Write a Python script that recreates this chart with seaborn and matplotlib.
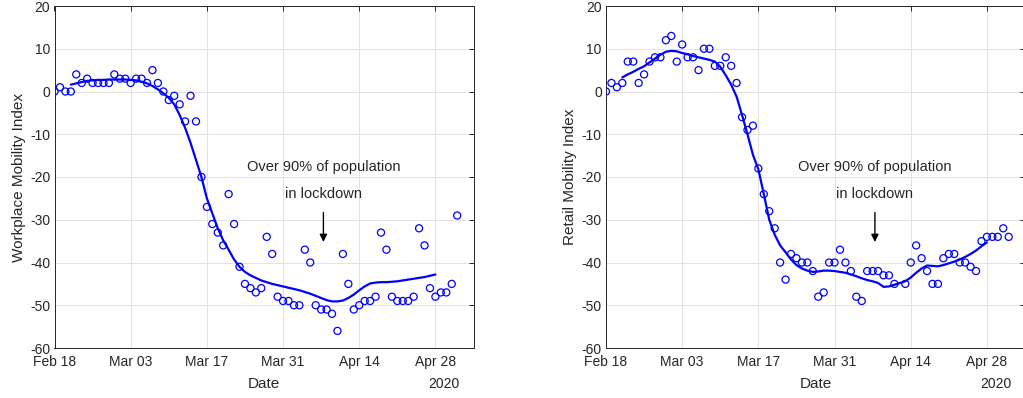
import numpy as np
import pandas as pd
import matplotlib
matplotlib.use("Agg")
import matplotlib.pyplot as plt
import matplotlib.dates as mdates
import seaborn as sns

# ---------------- data ----------------
start_date = "2020-02-18"
n_days = 75
workplace = [0, 1, 0, 0, 4, 2, 3, 2, 2, 2,
             2, 4, 3, 3, 2, 3, 3, 2, 5, 2,
             0, -2, -1, -3, -7, -1, -7, -20, -27, -31,
             -33, -36, -24, -31, -41, -45, -46, -47, -46, -34,
             -38, -48, -49, -49, -50, -50, -37, -40, -50, -51,
             -51, -52, -56, -38, -45, -51, -50, -49, -49, -48,
             -33, -37, -48, -49, -49, -49, -48, -32, -36, -46,
             -48, -47, -47, -45, -29]
retail = [0, 2, 1, 2, 7, 7, 2, 4, 7, 8,
          8, 12, 13, 7, 11, 8, 8, 5, 10, 10,
          6, 6, 8, 6, 2, -6, -9, -8, -18, -24,
          -28, -32, -40, -44, -38, -39, -40, -40, -42, -48,
          -47, -40, -40, -37, -40, -42, -48, -49, -42, -42,
          -42, -43, -43, -45, np.nan, -45, -40, -36, -39, -42,
          -45, -45, -39, -38, -38, -40, -40, -41, -42, -35,
          -34, -34, -34, -32, -34]

# smoothed trend lines (days 3 .. 70 after start)
smooth_first_day = 3
workplace_smooth = [1.6, 1.9, 2.2, 2.5, 2.6, 2.7, 2.7, 2.8, 2.8, 2.8,
                    2.8, 2.7, 2.6, 2.3, 1.9, 1.3, 0.5, -0.4, -1.5, -3.0,
                    -5.5, -8.5, -12.0, -16.0, -20.0, -25.0, -28.5, -32.0, -34.8, -37.0,
                    -39.3, -41.0, -42.2, -43.0, -43.6, -44.2, -44.6, -45.0, -45.3, -45.6,
                    -45.9, -46.2, -46.5, -46.9, -47.3, -47.8, -48.3, -48.8, -49.1, -49.1,
                    -48.9, -48.3, -47.5, -46.5, -45.6, -44.9, -44.7, -44.6, -44.6, -44.5,
                    -44.4, -44.2, -44.0, -43.8, -43.6, -43.4, -43.1, -42.8]
retail_smooth = [3.3, 4.0, 4.6, 5.3, 5.9, 6.8, 7.7, 8.6, 9.3, 9.5,
                 9.4, 9.0, 8.7, 8.3, 8.0, 7.7, 7.4, 7.0, 5.8, 3.8,
                 1.6, -1.2, -5.5, -10.0, -14.8, -18.2, -24.0, -30.0, -33.5, -36.0,
                 -37.6, -39.3, -40.6, -41.4, -41.9, -42.2, -42.1, -41.9, -41.9, -42.0,
                 -42.2, -42.4, -42.8, -43.2, -43.7, -44.1, -44.4, -44.8, -45.7, -45.6,
                 -45.2, -44.8, -44.4, -43.5, -42.4, -41.4, -40.7, -40.8, -40.9, -40.6,
                 -40.2, -39.8, -39.3, -38.7, -38.0, -37.2, -36.2, -35.3]

tick_dates = ["2020-02-18", "2020-03-03", "2020-03-17", "2020-03-31",
              "2020-04-14", "2020-04-28"]
x_limits = ["2020-02-18", "2020-05-05"]
y_ticks = [-60, -50, -40, -30, -20, -10, 0, 10, 20]
ylabels = ["Workplace Mobility Index", "Retail Mobility Index"]
note_line1 = "Over 90% of population"
note_line2 = "in lockdown"
note_date = "2020-04-07 10:00"
year_text = "2020"

# ---------------- style ----------------
sns.set_style("whitegrid")
plt.rcParams["font.family"] = ["Liberation Sans", "DejaVu Sans"]
plt.rcParams["axes.unicode_minus"] = False

dates = pd.date_range(start_date, periods=n_days, freq="D")
smooth_dates = dates[smooth_first_day:smooth_first_day + len(workplace_smooth)]

fig = plt.figure(figsize=(10.23, 3.98), dpi=100)
ax_l = fig.add_axes([54.5 / 1023, 1 - 348 / 398, 419 / 1023, 342 / 398])
ax_r = fig.add_axes([606 / 1023, 1 - 348 / 398, 419 / 1023, 342 / 398])

dark = "#262626"
for ax, pts, sm, ylab in [(ax_l, workplace, workplace_smooth, ylabels[0]),
                          (ax_r, retail, retail_smooth, ylabels[1])]:
    df = pd.DataFrame({"date": dates, "value": pts}).dropna()
    sdf = pd.DataFrame({"date": smooth_dates, "value": sm})
    sns.scatterplot(data=df, x="date", y="value", ax=ax, marker="o", s=26,
                    facecolor="none", edgecolor="blue", linewidth=0.9, zorder=3)
    sns.lineplot(data=sdf, x="date", y="value", ax=ax, color="blue",
                 linewidth=1.6, zorder=4)

    ax.set_xlim(pd.to_datetime(x_limits[0]), pd.to_datetime(x_limits[1]))
    ax.set_ylim(-60, 20)
    ax.set_yticks(y_ticks)
    ax.set_xticks(pd.to_datetime(tick_dates))
    ax.xaxis.set_major_formatter(mdates.DateFormatter("%b %d"))
    ax.set_facecolor("white")
    ax.grid(True, color="#e2e2e2", linewidth=0.7)
    for sp in ax.spines.values():
        sp.set_visible(True)
        sp.set_color(dark)
        sp.set_linewidth(0.7)
    ax.tick_params(direction="in", top=True, right=True, length=3.5, width=0.7,
                   color=dark, labelcolor=dark, labelsize=10)
    ax.tick_params(axis="x", pad=5)
    ax.tick_params(axis="y", pad=3)
    ax.set_xlabel("Date", fontsize=11, color=dark, labelpad=6)
    ax.set_ylabel(ylab, fontsize=11, color=dark, labelpad=3)
    ax.text(0.93, -0.105, year_text, transform=ax.transAxes, ha="center",
            va="center", fontsize=10, color=dark)

    nd = pd.Timestamp(note_date)
    ax.text(nd, -17.6, note_line1, ha="center", va="center", fontsize=10.5,
            color=dark)
    ax.text(nd, -24.0, note_line2, ha="center", va="center", fontsize=10.5,
            color=dark)
    ax.annotate("", xy=(nd, -35.2), xytext=(nd, -28.3),
                arrowprops=dict(arrowstyle="-|>", color="black", lw=1.0,
                                mutation_scale=11, shrinkA=0, shrinkB=0))

fig.savefig("out.png", dpi=100, facecolor="white")
